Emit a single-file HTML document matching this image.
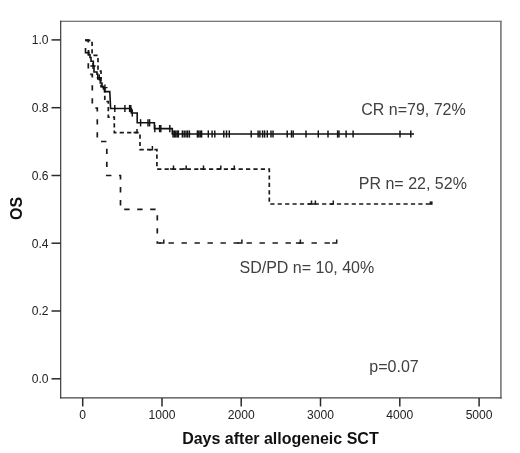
<!DOCTYPE html>
<html><head><meta charset="utf-8"><title>OS</title>
<style>
html,body{margin:0;padding:0;background:#fff;}
body{width:520px;height:453px;overflow:hidden;font-family:"Liberation Sans",sans-serif;}
svg{display:block;filter:blur(0.35px);}
text{font-family:"Liberation Sans",sans-serif;}
</style></head><body>
<svg width="520" height="453" viewBox="0 0 520 453">
<rect x="0" y="0" width="520" height="453" fill="#fff"/>
<line x1="60.1" y1="21.2" x2="501.8" y2="21.2" stroke="#4c4c4c" stroke-width="1.1"/><line x1="500.9" y1="21.2" x2="500.9" y2="398.5" stroke="#777" stroke-width="1.6"/><line x1="60.7" y1="20.7" x2="60.7" y2="398.5" stroke="#333" stroke-width="1.15"/><line x1="60.1" y1="397.9" x2="501.7" y2="397.9" stroke="#444" stroke-width="1.3"/>
<line x1="51.5" y1="378.8" x2="60.7" y2="378.8" stroke="#2a2a2a" stroke-width="1.5"/>
<text x="48.6" y="383.2" font-size="12.1" fill="#222" text-anchor="end">0.0</text>
<line x1="51.5" y1="311.0" x2="60.7" y2="311.0" stroke="#2a2a2a" stroke-width="1.5"/>
<text x="48.6" y="315.4" font-size="12.1" fill="#222" text-anchor="end">0.2</text>
<line x1="51.5" y1="243.2" x2="60.7" y2="243.2" stroke="#2a2a2a" stroke-width="1.5"/>
<text x="48.6" y="247.6" font-size="12.1" fill="#222" text-anchor="end">0.4</text>
<line x1="51.5" y1="175.5" x2="60.7" y2="175.5" stroke="#2a2a2a" stroke-width="1.5"/>
<text x="48.6" y="179.9" font-size="12.1" fill="#222" text-anchor="end">0.6</text>
<line x1="51.5" y1="107.7" x2="60.7" y2="107.7" stroke="#2a2a2a" stroke-width="1.5"/>
<text x="48.6" y="112.1" font-size="12.1" fill="#222" text-anchor="end">0.8</text>
<line x1="51.5" y1="39.9" x2="60.7" y2="39.9" stroke="#2a2a2a" stroke-width="1.5"/>
<text x="48.6" y="44.3" font-size="12.1" fill="#222" text-anchor="end">1.0</text>
<line x1="82.7" y1="397.9" x2="82.7" y2="406.5" stroke="#2a2a2a" stroke-width="1.5"/>
<text x="82.7" y="419.3" font-size="12.1" fill="#222" text-anchor="middle">0</text>
<line x1="162.0" y1="397.9" x2="162.0" y2="406.5" stroke="#2a2a2a" stroke-width="1.5"/>
<text x="162.0" y="419.3" font-size="12.1" fill="#222" text-anchor="middle">1000</text>
<line x1="241.2" y1="397.9" x2="241.2" y2="406.5" stroke="#2a2a2a" stroke-width="1.5"/>
<text x="241.2" y="419.3" font-size="12.1" fill="#222" text-anchor="middle">2000</text>
<line x1="320.5" y1="397.9" x2="320.5" y2="406.5" stroke="#2a2a2a" stroke-width="1.5"/>
<text x="320.5" y="419.3" font-size="12.1" fill="#222" text-anchor="middle">3000</text>
<line x1="399.8" y1="397.9" x2="399.8" y2="406.5" stroke="#2a2a2a" stroke-width="1.5"/>
<text x="399.8" y="419.3" font-size="12.1" fill="#222" text-anchor="middle">4000</text>
<line x1="479.1" y1="397.9" x2="479.1" y2="406.5" stroke="#2a2a2a" stroke-width="1.5"/>
<text x="479.1" y="419.3" font-size="12.1" fill="#222" text-anchor="middle">5000</text>
<text x="280.4" y="444.1" font-size="16" font-weight="bold" fill="#111" text-anchor="middle">Days after allogeneic SCT</text>
<text transform="translate(21.7,208.5) rotate(-90)" font-size="16" font-weight="bold" fill="#111" text-anchor="middle">OS</text>
<path d="M85.2,40.3 L88.3,40.3 L88.3,74.3 L92.3,74.3 L92.3,108.1 L97.3,108.1 L97.3,141.5 L106.8,141.5 L106.8,175.5 L120.5,175.5 L120.5,209.3 L157.3,209.3 L157.3,243.0 L336.7,243.0" fill="none" stroke="#1a1a1a" stroke-width="1.7" stroke-dasharray="5.4 7.6"/>
<path d="M159.3,243.0 H163.8 V239.4" fill="none" stroke="#1a1a1a" stroke-width="1.5"/>
<path d="M237.4,243.0 H241.9 V239.4" fill="none" stroke="#1a1a1a" stroke-width="1.5"/>
<path d="M295.9,243.0 H300.4 V239.4" fill="none" stroke="#1a1a1a" stroke-width="1.5"/>
<path d="M332.2,243.0 H336.7 V239.4" fill="none" stroke="#1a1a1a" stroke-width="1.5"/>
<line x1="85.0" y1="40.2" x2="89.4" y2="40.2" stroke="#1a1a1a" stroke-width="1.9"/>
<path d="M85.2,40.3 L92.1,40.3 L92.1,55.3 L98,55.3 L98,71.2 L101,71.2 L101,86.6 L104.8,86.6 L104.8,101.5 L108.3,101.5 L108.3,117.2 L114.3,117.2 L114.3,132.6 L140,132.6 L140,149.7 L156.9,149.7 L156.9,169.1 L269.3,169.1 L269.3,204.0 L431,204.0" fill="none" stroke="#1a1a1a" stroke-width="1.7" stroke-dasharray="4.2 3.2" stroke-dashoffset="-1"/>
<path d="M170.0,169.1 H173.5 V165.5" fill="none" stroke="#1a1a1a" stroke-width="1.5"/>
<path d="M182.7,169.1 H186.2 V165.5" fill="none" stroke="#1a1a1a" stroke-width="1.5"/>
<path d="M200.0,169.1 H203.5 V165.5" fill="none" stroke="#1a1a1a" stroke-width="1.5"/>
<path d="M217.3,169.1 H220.8 V165.5" fill="none" stroke="#1a1a1a" stroke-width="1.5"/>
<path d="M230.8,169.1 H234.3 V165.5" fill="none" stroke="#1a1a1a" stroke-width="1.5"/>
<path d="M133.5,132.6 H137 V129.0" fill="none" stroke="#1a1a1a" stroke-width="1.5"/>
<path d="M148.9,149.7 H152.4 V146.1" fill="none" stroke="#1a1a1a" stroke-width="1.5"/>
<path d="M308.0,204.0 H311.5 V200.4" fill="none" stroke="#1a1a1a" stroke-width="1.5"/>
<path d="M311.9,204.0 H315.4 V200.4" fill="none" stroke="#1a1a1a" stroke-width="1.5"/>
<path d="M329.8,204.0 H333.3 V200.4" fill="none" stroke="#1a1a1a" stroke-width="1.5"/>
<rect x="429.6" y="201.4" width="3" height="3.4" fill="#1a1a1a"/>
<path d="M85.5,48 L85.5,52.7 L88.7,52.7 L88.7,54.8 L90,54.8 L90,57.5 L91,57.5 L91,61.2 L93.3,61.2 L93.3,66 L94,66 L94,72 L97,72 L97,74.2 L97.8,74.2 L97.8,79 L100.3,79 L100.3,83 L102,83 L102,86.5 L103.5,86.5 L103.5,89 L104.5,89 L104.5,91.6 L109.8,91.6 L110.6,108.5 L131.3,108.5 L131.3,113 L137.2,113 L137.2,122.8 L154.4,122.8 L154.4,128.6 L172.3,128.6 L172.3,134.0 L414,134.0" fill="none" stroke="#111" stroke-width="1.6" stroke-linejoin="miter"/>
<line x1="88.7" y1="50.300000000000004" x2="88.7" y2="55.1" stroke="#111" stroke-width="1.45"/>
<path d="M90.4,66.0 H95.6 M93.0,63.0 V69.0" fill="none" stroke="#111" stroke-width="1.4"/>
<path d="M96.7,77.6 H101.89999999999999 M99.3,74.6 V80.6" fill="none" stroke="#111" stroke-width="1.4"/>
<path d="M102.30000000000001,87.6 H107.5 M104.9,84.6 V90.6" fill="none" stroke="#111" stroke-width="1.4"/>
<line x1="114.8" y1="104.9" x2="114.8" y2="112.1" stroke="#111" stroke-width="1.45"/>
<line x1="124.9" y1="104.9" x2="124.9" y2="112.1" stroke="#111" stroke-width="1.45"/>
<line x1="129.6" y1="104.9" x2="129.6" y2="112.1" stroke="#111" stroke-width="1.45"/>
<line x1="130.8" y1="104.9" x2="130.8" y2="112.1" stroke="#111" stroke-width="1.45"/>
<line x1="132.3" y1="109.4" x2="132.3" y2="116.6" stroke="#111" stroke-width="1.45"/>
<line x1="140.6" y1="119.2" x2="140.6" y2="126.39999999999999" stroke="#111" stroke-width="1.45"/>
<line x1="148" y1="119.2" x2="148" y2="126.39999999999999" stroke="#111" stroke-width="1.45"/>
<line x1="149.6" y1="119.2" x2="149.6" y2="126.39999999999999" stroke="#111" stroke-width="1.45"/>
<line x1="154.8" y1="125.0" x2="154.8" y2="132.2" stroke="#111" stroke-width="1.45"/>
<line x1="159.6" y1="125.0" x2="159.6" y2="132.2" stroke="#111" stroke-width="1.45"/>
<line x1="160.8" y1="125.0" x2="160.8" y2="132.2" stroke="#111" stroke-width="1.45"/>
<line x1="169.8" y1="125.0" x2="169.8" y2="132.2" stroke="#111" stroke-width="1.45"/>
<line x1="173" y1="130.4" x2="173" y2="137.6" stroke="#111" stroke-width="1.45"/>
<line x1="174.4" y1="130.4" x2="174.4" y2="137.6" stroke="#111" stroke-width="1.45"/>
<line x1="175.8" y1="130.4" x2="175.8" y2="137.6" stroke="#111" stroke-width="1.45"/>
<line x1="177.2" y1="130.4" x2="177.2" y2="137.6" stroke="#111" stroke-width="1.45"/>
<line x1="178.4" y1="130.4" x2="178.4" y2="137.6" stroke="#111" stroke-width="1.45"/>
<line x1="182.4" y1="130.4" x2="182.4" y2="137.6" stroke="#111" stroke-width="1.45"/>
<line x1="184.2" y1="130.4" x2="184.2" y2="137.6" stroke="#111" stroke-width="1.45"/>
<line x1="186" y1="130.4" x2="186" y2="137.6" stroke="#111" stroke-width="1.45"/>
<line x1="187.6" y1="130.4" x2="187.6" y2="137.6" stroke="#111" stroke-width="1.45"/>
<line x1="189.4" y1="130.4" x2="189.4" y2="137.6" stroke="#111" stroke-width="1.45"/>
<line x1="197.4" y1="130.4" x2="197.4" y2="137.6" stroke="#111" stroke-width="1.45"/>
<line x1="198.8" y1="130.4" x2="198.8" y2="137.6" stroke="#111" stroke-width="1.45"/>
<line x1="200.2" y1="130.4" x2="200.2" y2="137.6" stroke="#111" stroke-width="1.45"/>
<line x1="201.6" y1="130.4" x2="201.6" y2="137.6" stroke="#111" stroke-width="1.45"/>
<line x1="208.3" y1="130.4" x2="208.3" y2="137.6" stroke="#111" stroke-width="1.45"/>
<line x1="212.1" y1="130.4" x2="212.1" y2="137.6" stroke="#111" stroke-width="1.45"/>
<line x1="214.8" y1="130.4" x2="214.8" y2="137.6" stroke="#111" stroke-width="1.45"/>
<line x1="223.8" y1="130.4" x2="223.8" y2="137.6" stroke="#111" stroke-width="1.45"/>
<line x1="226.5" y1="130.4" x2="226.5" y2="137.6" stroke="#111" stroke-width="1.45"/>
<line x1="229.3" y1="130.4" x2="229.3" y2="137.6" stroke="#111" stroke-width="1.45"/>
<line x1="251.2" y1="130.4" x2="251.2" y2="137.6" stroke="#111" stroke-width="1.45"/>
<line x1="258.1" y1="130.4" x2="258.1" y2="137.6" stroke="#111" stroke-width="1.45"/>
<line x1="259.9" y1="130.4" x2="259.9" y2="137.6" stroke="#111" stroke-width="1.45"/>
<line x1="262.6" y1="130.4" x2="262.6" y2="137.6" stroke="#111" stroke-width="1.45"/>
<line x1="264.6" y1="130.4" x2="264.6" y2="137.6" stroke="#111" stroke-width="1.45"/>
<line x1="267.3" y1="130.4" x2="267.3" y2="137.6" stroke="#111" stroke-width="1.45"/>
<line x1="271" y1="130.4" x2="271" y2="137.6" stroke="#111" stroke-width="1.45"/>
<line x1="273" y1="130.4" x2="273" y2="137.6" stroke="#111" stroke-width="1.45"/>
<line x1="287.2" y1="130.4" x2="287.2" y2="137.6" stroke="#111" stroke-width="1.45"/>
<line x1="291.5" y1="130.4" x2="291.5" y2="137.6" stroke="#111" stroke-width="1.45"/>
<line x1="293.2" y1="130.4" x2="293.2" y2="137.6" stroke="#111" stroke-width="1.45"/>
<line x1="306" y1="130.4" x2="306" y2="137.6" stroke="#111" stroke-width="1.45"/>
<line x1="318.3" y1="130.4" x2="318.3" y2="137.6" stroke="#111" stroke-width="1.45"/>
<line x1="328" y1="130.4" x2="328" y2="137.6" stroke="#111" stroke-width="1.45"/>
<line x1="337.6" y1="130.4" x2="337.6" y2="137.6" stroke="#111" stroke-width="1.45"/>
<line x1="339" y1="130.4" x2="339" y2="137.6" stroke="#111" stroke-width="1.45"/>
<line x1="346.1" y1="130.4" x2="346.1" y2="137.6" stroke="#111" stroke-width="1.45"/>
<line x1="353.1" y1="130.4" x2="353.1" y2="137.6" stroke="#111" stroke-width="1.45"/>
<line x1="400.0" y1="130.4" x2="400.0" y2="137.6" stroke="#111" stroke-width="1.45"/>
<line x1="410.8" y1="130.4" x2="410.8" y2="137.6" stroke="#111" stroke-width="1.45"/>
<text x="361.2" y="115.0" font-size="16" fill="#404040">CR n=79, 72%</text>
<text x="358.8" y="188.7" font-size="16" fill="#404040">PR n= 22, 52%</text>
<text x="239.5" y="272.5" font-size="16" fill="#404040">SD/PD n= 10, 40%</text>
<text x="369.3" y="371.7" font-size="16" fill="#404040">p=0.07</text>
</svg>
</body></html>
